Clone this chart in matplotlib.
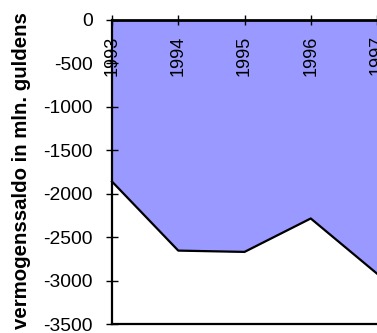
import numpy as np
import matplotlib.pyplot as plt

plt.rcParams['font.family'] = ['Liberation Sans', 'DejaVu Sans']

# vermogenssaldo per jaar (mln. gulden)
jaren = [1993, 1994, 1995, 1996, 1997]
saldo = [-1860, -2655, -2670, -2285, -2920]
yticks = np.arange(-3500, 1, 500)

fig = plt.figure(figsize=(3.77, 3.33), dpi=100)
ax = fig.add_axes([112/377, 9/333, 265/377, 304/333])

ax.fill_between(jaren, saldo, 0, color='#9999FF', lw=0)
ax.plot(jaren, saldo, color='black', lw=1.6, clip_on=False)

ax.set_xlim(1993, 1997)
ax.set_ylim(-3500, 0)
ax.set_yticks(yticks)
ax.set_yticklabels([str(v) for v in yticks], fontsize=13.9)
ax.tick_params(axis='y', direction='inout', length=8.5, width=1, pad=9.5)

# x-as bovenaan (bij 0), jaartallen gedraaid onder de as
ax.xaxis.set_ticks_position('top')
ax.set_xticks(jaren)
ax.tick_params(axis='x', direction='inout', length=7, width=1, labeltop=False, labelbottom=False)
for j in jaren:
    ax.annotate(str(j), xy=(j, 0), xytext=(0, -11), textcoords='offset points',
                rotation=90, ha='center', va='top', fontsize=13, annotation_clip=False)

for s in ['left', 'bottom']:
    ax.spines[s].set_linewidth(1.6)
ax.spines['top'].set_linewidth(2)
ax.spines['right'].set_visible(False)

ax.set_ylabel('vermogenssaldo in mln. guldens', fontsize=14.7, fontweight='bold')
ax.yaxis.set_label_coords(-0.306, 0.505)

fig.savefig('out.png', dpi=100)
